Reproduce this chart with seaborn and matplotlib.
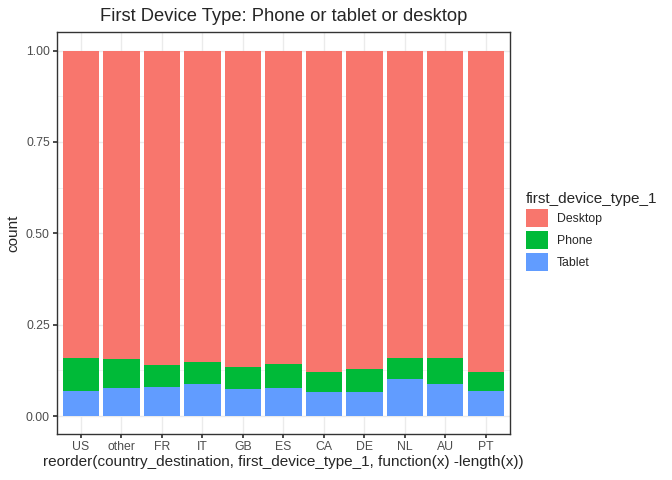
import matplotlib
matplotlib.use("Agg")
import matplotlib.pyplot as plt
from matplotlib.patches import Patch
from matplotlib.ticker import MultipleLocator
import numpy as np
import pandas as pd
import seaborn as sns

countries = ["US", "other", "FR", "IT", "GB", "ES", "CA", "DE", "NL", "AU", "PT"]
tablet = [0.069, 0.076, 0.079, 0.087, 0.073, 0.076, 0.066, 0.066, 0.101, 0.087, 0.069]
phone = [0.089, 0.079, 0.060, 0.062, 0.060, 0.065, 0.054, 0.062, 0.057, 0.071, 0.051]
desktop = [1 - t - p for t, p in zip(tablet, phone)]

colors = {"Desktop": "#F8766D", "Phone": "#00BA38", "Tablet": "#619CFF"}

df = pd.DataFrame({"country": countries, "Tablet": tablet, "Phone": phone, "Desktop": desktop})
df["top_desktop"] = df["Tablet"] + df["Phone"] + df["Desktop"]
df["top_phone"] = df["Tablet"] + df["Phone"]

sns.set_theme(style="white")
plt.rcParams["font.family"] = ["Liberation Sans", "DejaVu Sans"]

fig = plt.figure(figsize=(6.72, 4.8), dpi=100)
ax = fig.add_axes([56.7 / 672, (480 - 434.3) / 480, (510 - 56.7) / 672, (434.3 - 32.3) / 480])

# stacked bars: draw cumulative tops, last one drawn on top
for col, key in [("top_desktop", "Desktop"), ("top_phone", "Phone"), ("Tablet", "Tablet")]:
    sns.barplot(data=df, x="country", y=col, order=countries, color=colors[key],
                width=0.9, saturation=1, linewidth=0, edgecolor="none", ax=ax, zorder=2)

ax.set_xlim(-0.6, len(countries) - 0.4)
ax.set_ylim(-0.05, 1.05)
ax.yaxis.set_minor_locator(MultipleLocator(0.125))
ax.set_yticks([0, 0.25, 0.5, 0.75, 1.0])
ax.set_yticklabels(["0.00", "0.25", "0.50", "0.75", "1.00"])
ax.grid(which="major", color="#EBEBEB", linewidth=1.0, zorder=0)
ax.grid(which="minor", axis="y", color="#EBEBEB", linewidth=0.5, zorder=0)
ax.set_axisbelow(True)
for s in ax.spines.values():
    s.set_color("#333333")
    s.set_linewidth(1.0)
ax.tick_params(axis="both", which="major", length=3, color="#333333", labelcolor="#4D4D4D",
               labelsize=8.8, pad=2, bottom=True, left=True)
ax.tick_params(axis="both", which="minor", length=0)

ax.set_xlabel("reorder(country_destination, first_device_type_1, function(x) -length(x))",
              fontsize=11, labelpad=1)
ax.set_ylabel("count", fontsize=11, labelpad=4)
ax.set_title("First Device Type: Phone or tablet or desktop", fontsize=13.2, pad=8)

handles = [Patch(facecolor=colors[k], edgecolor="none") for k in ["Desktop", "Phone", "Tablet"]]
leg = fig.legend(handles, ["Desktop", "Phone", "Tablet"], title="first_device_type_1",
                 loc="upper left", bbox_to_anchor=(522 / 672, 1 - 188 / 480), frameon=False,
                 fontsize=8.8, title_fontsize=11, handlelength=1.8, handleheight=1.9,
                 handletextpad=0.75, labelspacing=0.3, borderaxespad=0, borderpad=0.3)
leg._legend_box.align = "left"

fig.savefig("out.png", dpi=100)
